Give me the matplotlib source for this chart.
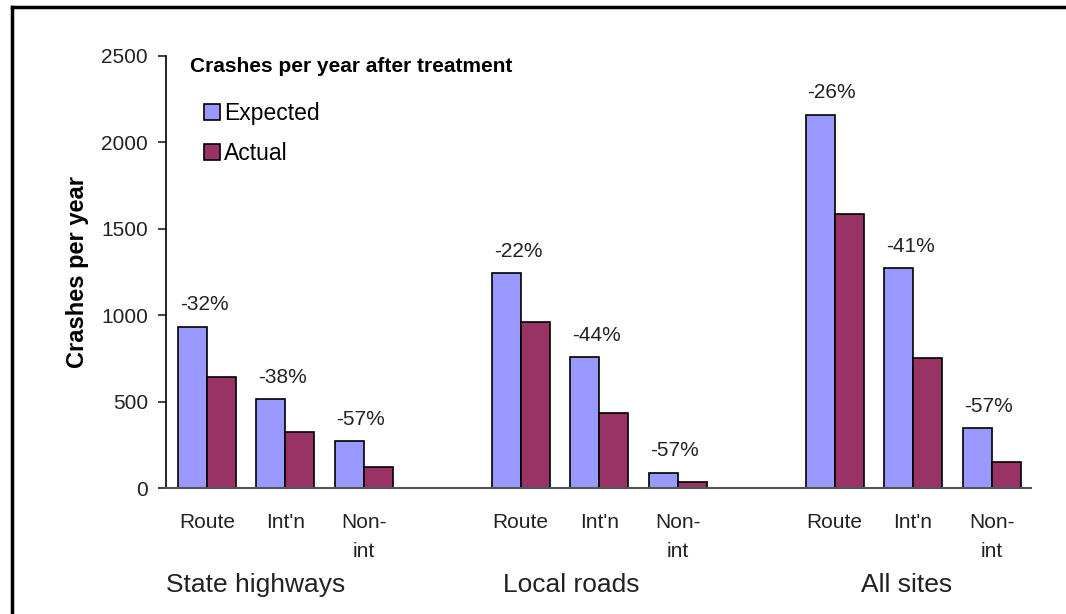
import numpy as np
import matplotlib.pyplot as plt
from matplotlib.lines import Line2D

plt.rcParams['font.family'] = ['Liberation Sans', 'DejaVu Sans']

groups = ["State highways", "Local roads", "All sites"]
cats = ["Route", "Int'n", "Non-\nint"]
expected = [932, 515, 272, 1244, 758, 87, 2160, 1273, 347]
actual = [642, 324, 121, 961, 434, 35, 1586, 752, 150]
pct = ["-32%", "-38%", "-57%", "-22%", "-44%", "-57%", "-26%", "-41%", "-57%"]

blue = "#9999FF"
red = "#993366"

# positions: 3 per group with one empty slot between groups
pos = np.array([g * 4 + i for g in range(3) for i in range(3)], dtype=float)
group_label_x = [0.62, 4.64, 8.92]  # as placed in the original
w = 0.37

fig = plt.figure(figsize=(10.66, 6.14), dpi=100)
ax = fig.add_axes([0.1557, 0.2052, 0.967 - 0.1557, 0.9088 - 0.2052])

ax.bar(pos - w / 2, expected, w, color=blue, edgecolor="black", linewidth=1.2, label="Expected")
ax.bar(pos + w / 2, actual, w, color=red, edgecolor="black", linewidth=1.2, label="Actual")

for x, e, p in zip(pos, expected, pct):
    ax.annotate(p, (x, e), xytext=(-2, 9), textcoords="offset points",
                ha="center", va="bottom", fontsize=15, color="#222222")

ax.set_xlim(-0.52, 10.5)
ax.set_ylim(0, 2500)
ax.set_yticks([0, 500, 1000, 1500, 2000, 2500])
ax.tick_params(axis="y", labelsize=15, length=6, width=1.2, colors="#222222", pad=7)
ax.set_xticks(pos)
ax.set_xticklabels(cats * 3, fontsize=15, color="#222222", linespacing=1.65)
ax.tick_params(axis="x", length=0, pad=18)
for s in ["top", "right"]:
    ax.spines[s].set_visible(False)
ax.spines["left"].set_linewidth(1.2)
ax.spines["bottom"].set_linewidth(1.5)
ax.spines["bottom"].set_color("#555555")
ax.set_ylabel("Crashes per year", fontsize=17, fontweight="bold", labelpad=9)

for gx, name in zip(group_label_x, groups):
    ax.text(gx, -0.225, name, transform=ax.get_xaxis_transform(),
            ha="center", va="center", fontsize=19, color="#222222")

ax.text(190 / 1066, 1 - 67 / 614, "Crashes per year after treatment",
        transform=fig.transFigure, ha="left", va="center",
        fontsize=15, fontweight="bold", color="black")
leg = ax.legend(loc="upper left", bbox_to_anchor=(0.033, 0.915), frameon=False,
                fontsize=16.5, handlelength=0.7, handleheight=0.7,
                handletextpad=0.2, labelspacing=0.75, borderaxespad=0)

# outer border (top and left edges visible)
fig.add_artist(Line2D([12 / 1066, 12 / 1066], [0, 1 - 7 / 614], color="black", lw=2.5))
fig.add_artist(Line2D([12 / 1066, 1], [1 - 7 / 614, 1 - 7 / 614], color="black", lw=2.5))

fig.savefig("out.png", dpi=100)
